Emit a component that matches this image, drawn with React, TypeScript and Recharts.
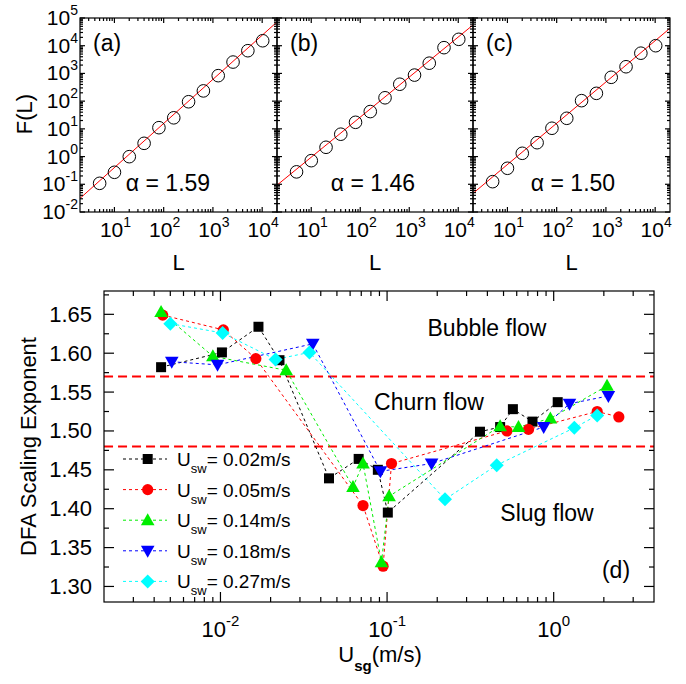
import React from "react";
import { ComposedChart, Line, XAxis, YAxis, ReferenceLine } from "recharts";

const FONT = '"Liberation Sans", Arial, Helvetica, sans-serif';

// (a)-(c): fluctuation function F(L) against window size L
const L_WINDOWS = [5, 10, 20, 40, 80, 160, 320, 640, 1280, 2560, 5120, 10240];
const F_A = [0.108, 0.27, 0.99, 3.0, 11, 25, 95, 234, 830, 2570, 6600, 15100];
const F_B = [0.28, 0.71, 2.16, 6.4, 17.2, 42, 132, 407, 870, 2340, 8500, 17000];
const F_C = [0.124, 0.377, 1.31, 3.16, 10.5, 24, 104, 191, 724, 1740, 5370, 10000];
const FIT_L = [2, 20000];
const FIT_A = [0.031, 72000];
const FIT_B = [0.093, 56000];
const FIT_C = [0.047, 42600];
const PANEL_TAGS = ["(a)", "(b)", "(c)"];
const ALPHAS = ["1.59", "1.46", "1.50"];
const L_DOMAIN = [2, 20000];
const F_DOMAIN = [0.01, 100000];

// (d): DFA exponent against superficial gas velocity
const USG_002 = [0.0044, 0.0102, 0.0169, 0.0226, 0.0448, 0.0675, 0.088, 0.101, 0.361, 0.477, 0.569, 0.746, 1.057];
const DFA_002 = [1.582, 1.601, 1.634, 1.591, 1.439, 1.464, 1.45, 1.395, 1.499, 1.505, 1.528, 1.512, 1.537];
const USG_005 = [0.0045, 0.0104, 0.0163, 0.0717, 0.0946, 0.1063, 0.524, 0.706, 1.824, 2.46];
const DFA_005 = [1.649, 1.63, 1.593, 1.404, 1.326, 1.458, 1.5, 1.502, 1.525, 1.518];
const USG_014 = [0.0044, 0.009, 0.0248, 0.0624, 0.0717, 0.0925, 0.1028, 0.477, 0.615, 0.955, 2.09];
const DFA_014 = [1.653, 1.596, 1.578, 1.428, 1.458, 1.331, 1.416, 1.506, 1.505, 1.516, 1.558];
const USG_018 = [0.0051, 0.0096, 0.0358, 0.0912, 0.185, 0.871, 1.244, 2.13];
const DFA_018 = [1.589, 1.585, 1.612, 1.448, 1.458, 1.505, 1.535, 1.545];
const USG_027 = [0.005, 0.0103, 0.0214, 0.0342, 0.2227, 0.455, 1.33, 1.824];
const DFA_027 = [1.638, 1.626, 1.592, 1.601, 1.412, 1.456, 1.504, 1.52];
const SW_LABELS = ["0.02", "0.05", "0.14", "0.18", "0.27"];
const USG_DOMAIN = [0.002, 4];
const DFA_DOMAIN = [1.28, 1.68];
const DFA_MAJOR = [1.3, 1.35, 1.4, 1.45, 1.5, 1.55, 1.6, 1.65];
const REGIME_BOUNDS = [1.57, 1.48];

type Kind = "square" | "circle" | "up" | "down" | "diamond";

const SERIES: { usg: number[]; dfa: number[]; color: string; kind: Kind }[] = [
  { usg: USG_002, dfa: DFA_002, color: "#000000", kind: "square" },
  { usg: USG_005, dfa: DFA_005, color: "#ff0000", kind: "circle" },
  { usg: USG_014, dfa: DFA_014, color: "#00ee00", kind: "up" },
  { usg: USG_018, dfa: DFA_018, color: "#0000ff", kind: "down" },
  { usg: USG_027, dfa: DFA_027, color: "#00ffff", kind: "diamond" },
];

const zip = (xs: number[], ys: number[]) => xs.map((x, i) => ({ x, y: ys[i] }));

const isDecade = (v: number) => {
  const l = Math.log10(v);
  return Math.abs(l - Math.round(l)) < 1e-6;
};
const decadeExp = (v: number) => String(Math.round(Math.log10(v)));

function logTicks(lo: number, hi: number) {
  const out: number[] = [];
  for (let d = Math.floor(Math.log10(lo)); d <= Math.ceil(Math.log10(hi)); d++) {
    for (let m = 1; m <= 9; m++) {
      const v = Number((m * Math.pow(10, d)).toPrecision(6));
      if (v > lo * 1.0001 && v < hi * 0.9999) out.push(v);
    }
  }
  return out;
}

const L_TICKS = logTicks(L_DOMAIN[0], L_DOMAIN[1]);
const F_TICKS = [0.01, ...logTicks(F_DOMAIN[0], F_DOMAIN[1]), 100000];
const USG_TICKS = logTicks(USG_DOMAIN[0], USG_DOMAIN[1]);
const DFA_TICKS = DFA_MAJOR.flatMap((v) => [v, Number((v + 0.025).toFixed(3))]);
const isDfaMajor = (v: number) => Math.abs(v * 20 - Math.round(v * 20)) < 1e-6;

// layout (px): one chart, each panel placed by axis padding
const W = 686;
const H = 684;
const EDGES = [80, 277, 473, 670];
const TOP_Y = [18, 212];
const TAG_X = [93, 290, 486];
const ALPHA_X = [168, 373, 573];
const D_X = [104, 654];
const D_Y = [291, 602];

type Label = (x: number, y: number, v: number) => React.ReactNode;

function xLabels(bottom: number, isMajor: (v: number) => boolean, label: Label) {
  return (p: any) => {
    const v = Number(p.payload.value);
    return <g>{isMajor(v) ? label(Number(p.x), bottom, v) : null}</g>;
  };
}
function yLabels(left: number, isMajor: (v: number) => boolean, label?: Label) {
  return (p: any) => {
    const v = Number(p.payload.value);
    return <g>{label && isMajor(v) ? label(left, Number(p.y), v) : null}</g>;
  };
}

function Marker({ kind, cx, cy, color }: { kind: Kind; cx: number; cy: number; color: string }) {
  if (cx == null || cy == null) return null;
  switch (kind) {
    case "square":
      return <rect x={cx - 5} y={cy - 5} width={10} height={10} fill={color} />;
    case "circle":
      return <circle cx={cx} cy={cy} r={5.6} fill={color} />;
    case "up":
      return <polygon points={`${cx},${cy - 7} ${cx + 6.8},${cy + 5} ${cx - 6.8},${cy + 5}`} fill={color} />;
    case "down":
      return <polygon points={`${cx},${cy + 7} ${cx + 6.8},${cy - 5} ${cx - 6.8},${cy - 5}`} fill={color} />;
    default:
      return <polygon points={`${cx},${cy - 7} ${cx + 7},${cy} ${cx},${cy + 7} ${cx - 7},${cy}`} fill={color} />;
  }
}

const topXLabel: Label = (x, y, v) => (
  <text x={x + 1} y={y + 25} textAnchor="middle" fontSize={21} fontFamily={FONT} fill="#000">
    10<tspan dy={-10} fontSize={14}>{decadeExp(v)}</tspan>
  </text>
);
const topYLabel: Label = (x, y, v) => (
  <text x={x - 2} y={y + 7} textAnchor="end" fontSize={21} fontFamily={FONT} fill="#000">
    10<tspan dy={-10} fontSize={14}>{decadeExp(v)}</tspan>
  </text>
);
const dXLabel: Label = (x, y, v) => (
  <text x={x} y={y + 35} textAnchor="middle" fontSize={22} fontFamily={FONT} fill="#000">
    10<tspan dy={-11} fontSize={15}>{decadeExp(v)}</tspan>
  </text>
);
const dYLabel: Label = (x, y, v) => (
  <text x={x - 12} y={y + 7.5} textAnchor="end" fontSize={22} fontFamily={FONT} fill="#000">
    {v.toFixed(2)}
  </text>
);

// frame with inward ticks on all four sides
function Frame({
  x0, x1, y0, y1, xt, yt, xLog, yLog, xd, yd, xMaj, yMaj, maj, min,
}: {
  x0: number; x1: number; y0: number; y1: number;
  xt: number[]; yt: number[]; xLog: boolean; yLog: boolean;
  xd: number[]; yd: number[];
  xMaj: (v: number) => boolean; yMaj: (v: number) => boolean;
  maj: number; min: number;
}) {
  const f = (v: number, log: boolean) => (log ? Math.log10(v) : v);
  const px = (v: number) => x0 + ((f(v, xLog) - f(xd[0], xLog)) / (f(xd[1], xLog) - f(xd[0], xLog))) * (x1 - x0);
  const py = (v: number) => y1 - ((f(v, yLog) - f(yd[0], yLog)) / (f(yd[1], yLog) - f(yd[0], yLog))) * (y1 - y0);
  return (
    <g stroke="#000" strokeWidth={1.2}>
      {xt.map((v) => {
        const x = px(v);
        const l = xMaj(v) ? maj : min;
        return (
          <g key={`x${v}`}>
            <line x1={x} y1={y1} x2={x} y2={y1 - l} />
            <line x1={x} y1={y0} x2={x} y2={y0 + l} />
          </g>
        );
      })}
      {yt.map((v) => {
        const y = py(v);
        const l = yMaj(v) ? maj : min;
        return (
          <g key={`y${v}`}>
            <line x1={x0} y1={y} x2={x0 + l} y2={y} />
            <line x1={x1} y1={y} x2={x1 - l} y2={y} />
          </g>
        );
      })}
      <rect x={x0} y={y0} width={x1 - x0} height={y1 - y0} fill="none" />
    </g>
  );
}

const LEGEND_Y0 = 459;
const LEGEND_DY = 30.6;

function Overlay() {
  return (
    <svg width={W} height={H} style={{ position: "absolute", left: 0, top: 0 }} fontFamily={FONT} fill="#000">
      {PANEL_TAGS.map((t, i) => (
        <g key={t}>
          <Frame
            x0={EDGES[i]} x1={EDGES[i + 1]} y0={TOP_Y[0]} y1={TOP_Y[1]}
            xt={L_TICKS} yt={F_TICKS} xLog yLog xd={L_DOMAIN} yd={F_DOMAIN}
            xMaj={isDecade} yMaj={isDecade} maj={5} min={3}
          />
          <text x={TAG_X[i]} y={51} fontSize={23}>{t}</text>
          <text x={ALPHA_X[i]} y={191} fontSize={23} textAnchor="middle">{`\u03b1 = ${ALPHAS[i]}`}</text>
          <text x={(EDGES[i] + EDGES[i + 1]) / 2} y={270} fontSize={22} textAnchor="middle">L</text>
        </g>
      ))}
      <Frame
        x0={D_X[0]} x1={D_X[1]} y0={D_Y[0]} y1={D_Y[1]}
        xt={USG_TICKS} yt={DFA_TICKS} xLog yLog={false} xd={USG_DOMAIN} yd={DFA_DOMAIN}
        xMaj={isDecade} yMaj={isDfaMajor} maj={10} min={5}
      />
      <text x={32} y={114} fontSize={22} textAnchor="middle" transform="rotate(-90 32 114)">F(L)</text>
      <text x={487} y={336} fontSize={23} textAnchor="middle">Bubble flow</text>
      <text x={429} y={410} fontSize={23} textAnchor="middle">Churn flow</text>
      <text x={547} y={521} fontSize={23} textAnchor="middle">Slug flow</text>
      <text x={616} y={578} fontSize={23} textAnchor="middle">(d)</text>
      <text x={36} y={446.5} fontSize={22} textAnchor="middle" transform="rotate(-90 36 446.5)">
        DFA Scaling Exponent
      </text>
      <text x={380} y={662} fontSize={22} textAnchor="middle">
        U<tspan dy={9} fontSize={15} fontWeight="bold">sg</tspan>
        <tspan dy={-9}>(m/s)</tspan>
      </text>
      {SERIES.map((s, k) => {
        const y = LEGEND_Y0 + k * LEGEND_DY;
        return (
          <g key={k}>
            <line x1={123} y1={y} x2={167} y2={y} stroke={s.color} strokeWidth={1} strokeDasharray="3 3" />
            <Marker kind={s.kind} cx={147.7} cy={y} color={s.color} />
            <text x={177} y={y + 7} fontSize={19}>
              U<tspan dy={7} fontSize={13}>sw</tspan>
              <tspan dy={-7}>{`= ${SW_LABELS[k]}m/s`}</tspan>
            </text>
          </g>
        );
      })}
    </svg>
  );
}

const AX = { interval: 0 as const, tickSize: 0, tickMargin: 0, tickLine: false, axisLine: false, allowDataOverflow: true };

const PANELS = [
  { F: F_A, fit: FIT_A },
  { F: F_B, fit: FIT_B },
  { F: F_C, fit: FIT_C },
];

export default function App() {
  return (
    <div style={{ position: "absolute", left: 0, top: 0, width: W, height: H, background: "#fff" }}>
      <div style={{ position: "absolute", left: 0, top: 0 }}>
        <ComposedChart width={W} height={H} margin={{ top: 0, right: 0, bottom: 0, left: 0 }}>
          {PANELS.map((_, i) => (
            <XAxis
              key={`x${i}`}
              {...AX}
              xAxisId={`x${i}`}
              dataKey="x"
              type="number"
              scale="log"
              domain={L_DOMAIN}
              ticks={L_TICKS}
              height={0.01}
              padding={{ left: EDGES[i], right: W - EDGES[i + 1] }}
              tick={xLabels(TOP_Y[1], isDecade, topXLabel)}
            />
          ))}
          {PANELS.map((_, i) => (
            <YAxis
              key={`y${i}`}
              {...AX}
              yAxisId={`y${i}`}
              type="number"
              scale="log"
              domain={F_DOMAIN}
              ticks={F_TICKS}
              width={0.01}
              padding={{ top: TOP_Y[0], bottom: H - TOP_Y[1] }}
              tick={yLabels(EDGES[i], isDecade, i === 0 ? topYLabel : undefined)}
            />
          ))}
          <XAxis
            {...AX}
            xAxisId="xd"
            dataKey="x"
            type="number"
            scale="log"
            domain={USG_DOMAIN}
            ticks={USG_TICKS}
            height={0.01}
            padding={{ left: D_X[0], right: W - D_X[1] }}
            tick={xLabels(D_Y[1], isDecade, dXLabel)}
          />
          <YAxis
            {...AX}
            yAxisId="yd"
            type="number"
            domain={DFA_DOMAIN}
            ticks={DFA_TICKS}
            width={0.01}
            padding={{ top: D_Y[0], bottom: H - D_Y[1] }}
            tick={yLabels(D_X[0], isDfaMajor, dYLabel)}
          />

          {REGIME_BOUNDS.map((b) => (
            <ReferenceLine
              key={b}
              xAxisId="xd"
              yAxisId="yd"
              segment={[
                { x: USG_DOMAIN[0], y: b },
                { x: USG_DOMAIN[1], y: b },
              ]}
              stroke="#ff0000"
              strokeWidth={2}
              strokeDasharray="9 5"
              ifOverflow="visible"
            />
          ))}

          {PANELS.map((p, i) => (
            <Line
              key={`fit${i}`}
              xAxisId={`x${i}`}
              yAxisId={`y${i}`}
              data={zip(FIT_L, p.fit)}
              dataKey="y"
              stroke="#ff0000"
              strokeWidth={1}
              dot={false}
              isAnimationActive={false}
            />
          ))}
          {PANELS.map((p, i) => (
            <Line
              key={`pts${i}`}
              xAxisId={`x${i}`}
              yAxisId={`y${i}`}
              data={zip(L_WINDOWS, p.F)}
              dataKey="y"
              stroke="none"
              dot={{ r: 6.3, stroke: "#000", strokeWidth: 1, fill: "none" }}
              isAnimationActive={false}
            />
          ))}
          {SERIES.map((s, k) => (
            <Line
              key={`s${k}`}
              xAxisId="xd"
              yAxisId="yd"
              data={zip(s.usg, s.dfa)}
              dataKey="y"
              stroke={s.color}
              strokeWidth={1}
              strokeDasharray="3 3"
              isAnimationActive={false}
              dot={(p: any) => <Marker key={p.index} kind={s.kind} cx={p.cx} cy={p.cy} color={s.color} />}
            />
          ))}
        </ComposedChart>
      </div>
      <Overlay />
    </div>
  );
}
